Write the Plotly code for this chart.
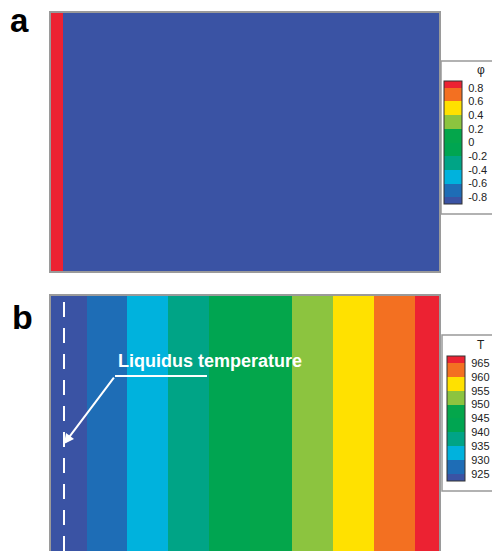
import plotly.graph_objects as go

# ---------------- data ----------------
# Panel a: phase field phi across the domain (normalized x)
phi_x_edges = [0.0, 0.031, 1.0]        # red solid strip at left, rest liquid
phi_values = [1.0, -1.0]
phi_ticks = [0.8, 0.6, 0.4, 0.2, 0, -0.2, -0.4, -0.6, -0.8]
phi_ticktext = ["0.8", "0.6", "0.4", "0.2", "0", "-0.2", "-0.4", "-0.6", "-0.8"]

# Panel b: temperature field, isotherm positions (normalized x)
T_levels = [925, 930, 935, 940, 945, 950, 955, 960, 965]
T_isotherm_x = [0.093, 0.196, 0.302, 0.407, 0.513, 0.621, 0.727, 0.832, 0.938]
T_left_edge = 920.6
T_right_edge = 967.9
liquidus_x = 0.0335

# 10 discrete level colours (low -> high)
level_colors = ["#3A53A4", "#1E6DB6", "#00B2DD", "#00A486", "#00A551",
                "#04A64B", "#8CC43F", "#FFE100", "#F37021", "#EC2232"]

W, H = 492, 551


def px(xp):
    return xp / W


def py(yp):
    return 1 - yp / H


def discrete_scale(bounds, vmin, vmax, colors):
    stops = [vmin] + bounds + [vmax]
    cs = []
    for i, c in enumerate(colors):
        a = (stops[i] - vmin) / (vmax - vmin)
        b = (stops[i + 1] - vmin) / (vmax - vmin)
        cs.append([a, c])
        cs.append([b, c])
    return cs


phi_bounds = sorted(phi_ticks)
phi_min, phi_max = -0.9, 0.9
T_min, T_max = 922.5, 967.5

# band temperatures (midpoints of each band between isotherms)
T_x_edges = [0.0] + T_isotherm_x + [1.0]
T_band_vals = [(a + b) / 2 for a, b in zip([T_left_edge] + T_levels, T_levels + [T_right_edge])]

fig = go.Figure()

cb_common = dict(thickness=18, thicknessmode="pixels", lenmode="pixels",
                 xanchor="left", yanchor="top", xpad=0, ypad=0,
                 outlinewidth=1, outlinecolor="#333333",
                 ticks="outside", ticklen=4, tickcolor="rgba(0,0,0,0)",
                 tickfont=dict(family="Liberation Sans, Arial", size=11, color="#222222"),
                 bgcolor="rgba(0,0,0,0)", borderwidth=0)

fig.add_trace(go.Heatmap(
    x=phi_x_edges, y=[0, 1], z=[phi_values],
    colorscale=discrete_scale(phi_bounds, phi_min, phi_max, level_colors),
    zmin=phi_min, zmax=phi_max, xaxis="x", yaxis="y",
    colorbar=dict(x=px(444), y=py(81), len=123,
                  tickvals=phi_ticks, ticktext=phi_ticktext, **cb_common),
    hoverinfo="skip"))

fig.add_trace(go.Heatmap(
    x=T_x_edges, y=[0, 1], z=[T_band_vals],
    colorscale=discrete_scale(T_levels, T_min, T_max, level_colors),
    zmin=T_min, zmax=T_max, xaxis="x2", yaxis="y2",
    colorbar=dict(x=px(447), y=py(356), len=125,
                  tickvals=T_levels, ticktext=[str(t) for t in T_levels], **cb_common),
    hoverinfo="skip"))

ax_style = dict(showgrid=False, zeroline=False, showticklabels=False, ticks="",
                showline=True, mirror=True, linecolor="#9a9a9a", linewidth=1.5,
                range=[0, 1], fixedrange=True)
xdom = [px(51), px(439)]
fig.update_layout(
    width=W, height=H, margin=dict(l=0, r=0, t=0, b=0, autoexpand=False),
    paper_bgcolor="white", plot_bgcolor="white",
    xaxis=dict(domain=xdom, anchor="y", **ax_style),
    yaxis=dict(domain=[py(271), py(13)], anchor="x", **ax_style),
    xaxis2=dict(domain=xdom, anchor="y2", **ax_style),
    yaxis2=dict(domain=[0, py(296)], anchor="x2", **ax_style),
)

shapes = []
# liquidus dashed line
shapes.append(dict(type="line", xref="x2", yref="y2", x0=liquidus_x, x1=liquidus_x,
                   y0=0, y1=1, line=dict(color="white", width=2, dash="15px,11px")))
# underline of the annotation
shapes.append(dict(type="line", xref="x2", yref="y2", x0=0.165, x1=0.402, y0=0.686, y1=0.686,
                   line=dict(color="white", width=2)))
# legend boxes
shapes.append(dict(type="rect", xref="paper", yref="paper", x0=px(441), x1=px(520),
                   y0=py(214), y1=py(61), line=dict(color="#999999", width=1.5)))
shapes.append(dict(type="rect", xref="paper", yref="paper", x0=px(442), x1=px(520),
                   y0=py(491), y1=py(335), line=dict(color="#999999", width=1.5)))
# separators between colour boxes in the legends
for (bx, by, blen, bounds, vmin, vmax) in [(444, 81, 123, phi_bounds, phi_min, phi_max),
                                            (447, 356, 125, T_levels, T_min, T_max)]:
    for b in bounds:
        yy = by + blen * (vmax - b) / (vmax - vmin)
        shapes.append(dict(type="line", xref="paper", yref="paper", x0=px(bx), x1=px(bx + 18),
                           y0=py(yy), y1=py(yy), line=dict(color="rgba(30,30,30,0.7)", width=1)))
fig.update_layout(shapes=shapes)

ann = []
ann.append(dict(text="<b>a</b>", x=px(8), y=py(0), xref="paper", yref="paper",
                xanchor="left", yanchor="top", showarrow=False,
                font=dict(family="Liberation Sans, Arial", size=33, color="black")))
ann.append(dict(text="<b>b</b>", x=px(10), y=py(338), xref="paper", yref="paper",
                xanchor="left", yanchor="bottom", showarrow=False,
                font=dict(family="Liberation Sans, Arial", size=34, color="black")))
ann.append(dict(text="φ", x=px(481), y=py(70), xref="paper", yref="paper",
                xanchor="center", yanchor="middle", showarrow=False,
                font=dict(family="Liberation Sans, Arial", size=12, color="#222222")))
ann.append(dict(text="T", x=px(481), y=py(345), xref="paper", yref="paper",
                xanchor="center", yanchor="middle", showarrow=False,
                font=dict(family="Liberation Sans, Arial", size=12, color="#222222")))
ann.append(dict(text="<b>Liquidus temperature</b>", x=0.168, y=0.745, xref="x2", yref="y2",
                xanchor="left", yanchor="middle", showarrow=False,
                font=dict(family="Liberation Sans, Arial", size=18, color="white")))
ann.append(dict(text="", x=liquidus_x, y=0.4196, ax=0.165, ay=0.686, xref="x2", yref="y2",
                axref="x2", ayref="y2", showarrow=True, arrowhead=2, arrowsize=1,
                arrowwidth=2, arrowcolor="white"))
fig.update_layout(annotations=ann)

fig.write_html("out.html")
